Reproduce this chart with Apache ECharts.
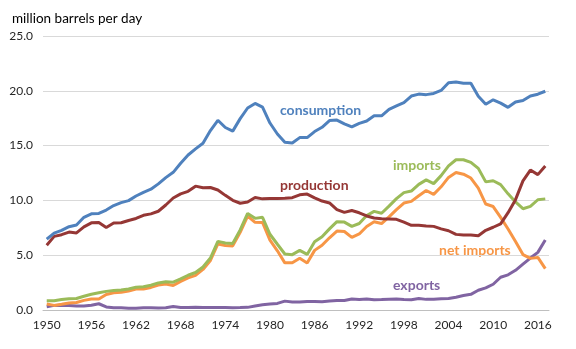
<!DOCTYPE html>
<html><head><meta charset="utf-8">
<script src="https://cdn.jsdelivr.net/npm/echarts@6/dist/echarts.min.js"></script>
<style>html,body{margin:0;padding:0;background:#fff}#c{width:576px;height:349px}</style>
</head><body><div id="c"></div>
<script>
var years = [];
for (var y = 1950; y <= 2017; y++) years.push(String(y));
var yTicks = ["0.0","5.0","10.0","15.0","20.0","25.0"];
var consumption = [6.46,7.02,7.27,7.60,7.76,8.46,8.78,8.81,9.12,9.53,9.80,9.98,10.40,10.74,11.02,11.51,12.08,12.56,13.39,14.14,14.70,15.21,16.37,17.31,16.65,16.32,17.46,18.43,18.85,18.51,17.06,16.06,15.30,15.23,15.73,15.73,16.28,16.67,17.28,17.33,16.99,16.71,17.03,17.24,17.72,17.72,18.31,18.62,18.92,19.52,19.70,19.65,19.76,20.03,20.73,20.80,20.69,20.68,19.50,18.77,19.18,18.88,18.49,18.97,19.11,19.53,19.69,19.96];
var production = [5.91,6.72,6.87,7.11,7.03,7.58,7.95,7.98,7.52,7.93,7.96,8.17,8.35,8.64,8.77,9.01,9.58,10.22,10.60,10.83,11.30,11.16,11.18,10.95,10.46,10.01,9.74,9.86,10.27,10.14,10.17,10.18,10.20,10.25,10.51,10.58,10.23,9.94,9.77,9.16,8.91,9.08,8.87,8.58,8.39,8.32,8.30,8.27,8.01,7.73,7.73,7.67,7.63,7.40,7.23,6.90,6.84,6.85,6.78,7.27,7.55,7.86,8.88,10.07,11.78,12.77,12.35,13.14];
var imports = [0.85,0.84,0.95,1.03,1.05,1.25,1.44,1.57,1.70,1.78,1.82,1.92,2.08,2.12,2.26,2.47,2.57,2.54,2.84,3.17,3.42,3.93,4.74,6.26,6.11,6.06,7.31,8.81,8.36,8.46,6.91,6.00,5.11,5.05,5.44,5.07,6.22,6.68,7.40,8.06,8.02,7.63,7.89,8.62,9.00,8.83,9.48,10.16,10.71,10.85,11.46,11.87,11.53,12.26,13.15,13.71,13.71,13.47,12.92,11.69,11.79,11.44,10.60,9.86,9.24,9.45,10.06,10.14];
var netImports = [0.55,0.42,0.52,0.63,0.69,0.88,1.01,1.00,1.42,1.57,1.61,1.74,1.91,1.91,2.06,2.28,2.37,2.24,2.61,2.93,3.16,3.70,4.52,6.03,5.89,5.85,7.09,8.56,8.00,7.99,6.37,5.40,4.30,4.31,4.72,4.29,5.44,5.91,6.59,7.20,7.16,6.63,6.94,7.62,8.05,7.89,8.50,9.16,9.76,9.91,10.42,10.90,10.55,11.24,12.10,12.55,12.39,12.04,11.11,9.67,9.44,8.45,7.39,6.24,5.06,4.71,4.80,3.77];
var exports = [0.30,0.42,0.43,0.40,0.36,0.37,0.43,0.57,0.28,0.21,0.20,0.17,0.17,0.21,0.20,0.19,0.20,0.31,0.23,0.23,0.26,0.22,0.22,0.23,0.22,0.21,0.22,0.24,0.36,0.47,0.54,0.60,0.81,0.74,0.72,0.78,0.78,0.76,0.82,0.86,0.86,1.00,0.95,1.00,0.94,0.95,0.98,1.00,0.95,0.94,1.04,0.97,0.98,1.03,1.05,1.17,1.32,1.43,1.80,2.02,2.35,2.99,3.21,3.62,4.18,4.74,5.26,6.38];
var seriesNames = ["consumption","production","imports","net imports","exports"];
var title = "million barrels per day";

var colors = ["#4F81BD","#953735","#9BBB59","#F79646","#8064A2"];
var dataArr = [consumption, production, imports, netImports, exports];
var labelPos = [[280,110],[280,185],[393,165],[439,250],[393,285]];
var FONT = "Lato";
var chart = echarts.init(document.getElementById('c'), null, {renderer:'canvas'});
var series = dataArr.map(function(d,i){
  return {name: seriesNames[i], type:'line', data:d, showSymbol:false, symbol:'none',
    lineStyle:{color:colors[i], width:3}, itemStyle:{color:colors[i]}, animation:false, z: 5-i};
});
var graphics = [{type:'text', left:12, top:12, style:{text:title, font:'13.5px '+FONT, fill:'#000'}}];
seriesNames.forEach(function(n,i){
  graphics.push({type:'text', x:labelPos[i][0], y:labelPos[i][1], style:{text:n, font:'bold 14px '+FONT, fill:colors[i], textVerticalAlign:'middle', verticalAlign:'middle'}});
});
chart.setOption({
  animation:false,
  textStyle:{fontFamily:FONT},
  grid:{left:43, right:27, top:36, bottom:39, containLabel:false},
  xAxis:{type:'category', data:years, boundaryGap:true,
    axisLine:{lineStyle:{color:'#bfbfbf', width:1}},
    axisTick:{show:false},
    axisLabel:{interval:5, color:'#262626', fontSize:12, fontFamily:FONT, margin:9}},
  yAxis:{type:'value', min:0, max:25, interval:5,
    axisLine:{show:false}, axisTick:{show:false},
    splitLine:{lineStyle:{color:'#d9d9d9', width:1}},
    axisLabel:{color:'#262626', fontSize:12, fontFamily:FONT, margin:10,
      formatter:function(v){return yTicks[Math.round(v/5)];}}},
  series:series,
  graphic:graphics
});
</script></body></html>
